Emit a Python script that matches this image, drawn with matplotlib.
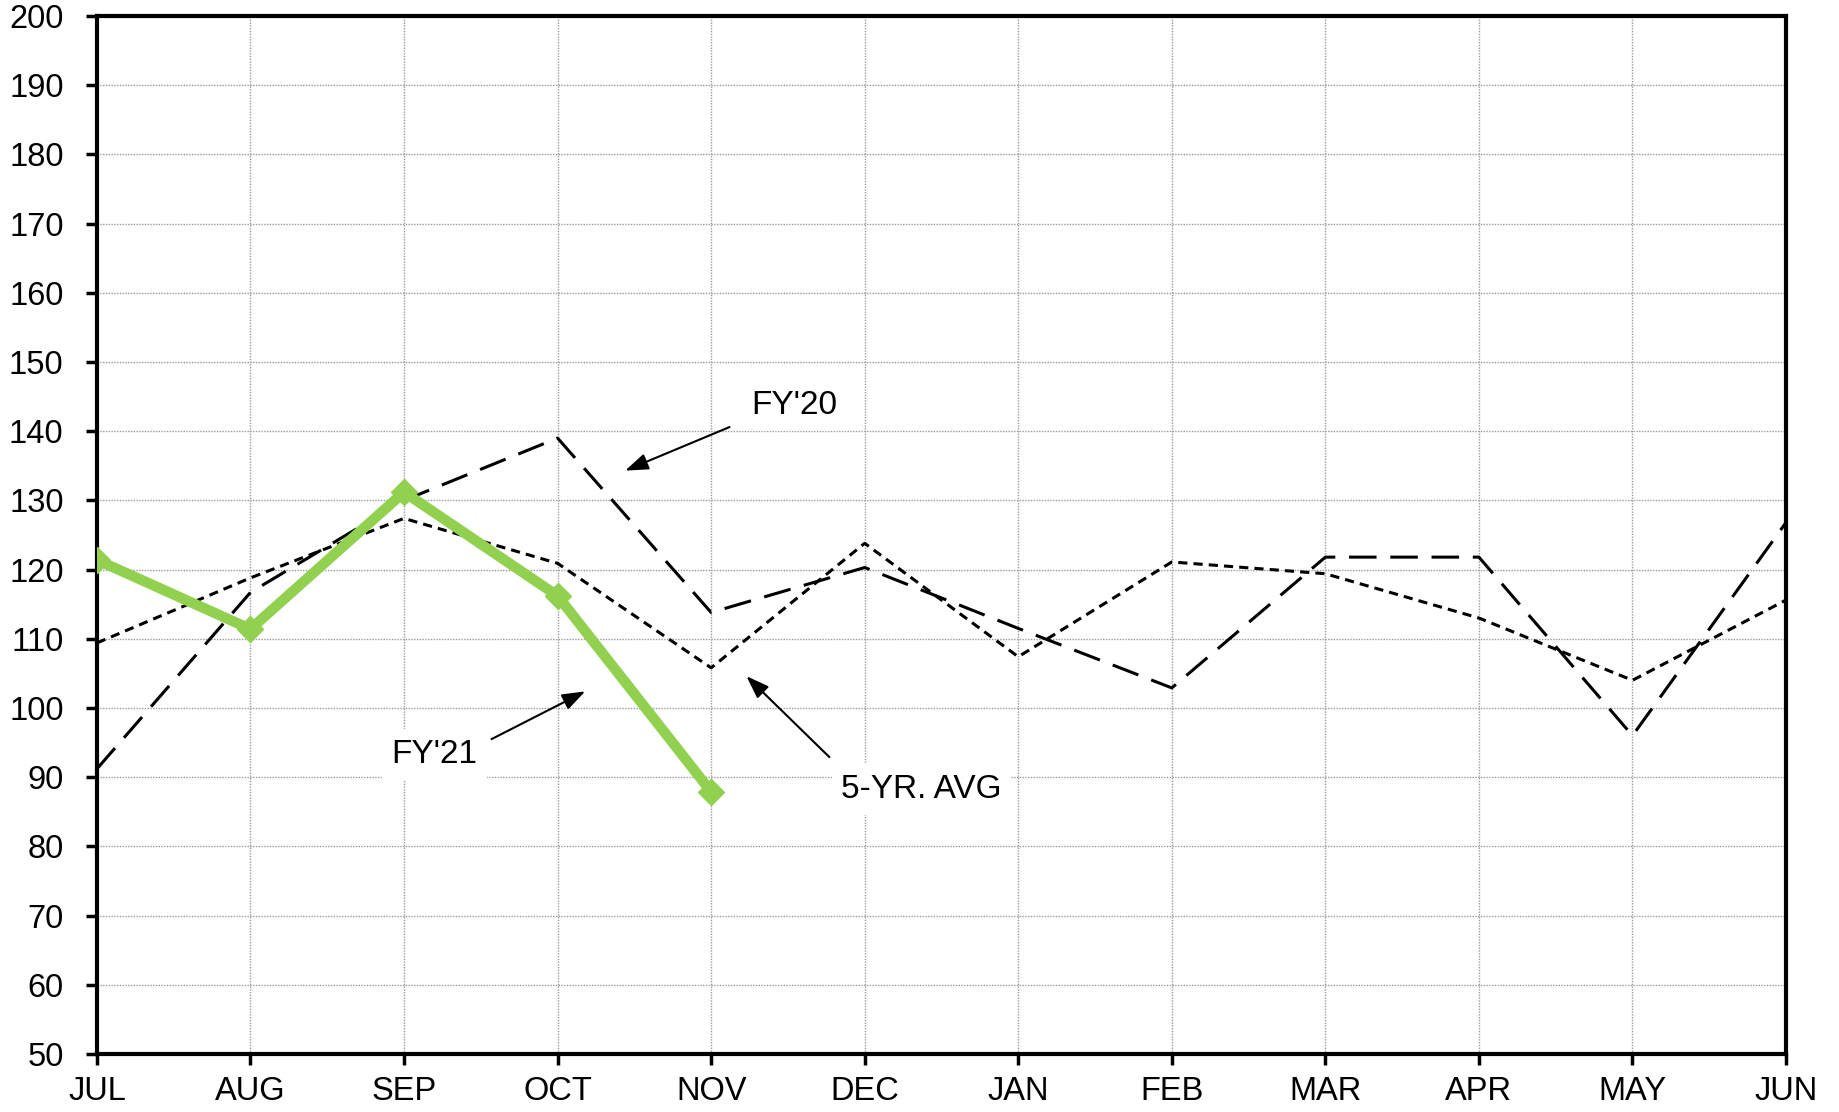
import matplotlib.pyplot as plt
import numpy as np

months = ['JUL', 'AUG', 'SEP', 'OCT', 'NOV', 'DEC', 'JAN', 'FEB', 'MAR', 'APR', 'MAY', 'JUN']
fy21 = [121.4, 111.4, 131.2, 116.2, 87.9]
fy20 = [91.2, 116.7, 130.0, 139.0, 113.8, 120.3, 111.5, 102.9, 121.8, 121.8, 96.0, 126.8]
avg5 = [109.4, 118.8, 127.4, 120.9, 105.8, 123.8, 107.4, 121.1, 119.4, 113.0, 104.0, 115.6]

plt.rcParams['font.family'] = ['Liberation Sans', 'DejaVu Sans']

fig = plt.figure(figsize=(18.39, 11.12), dpi=100)
ax = fig.add_axes([0.0527, 0.0522, 0.9185, 0.9334])

x = np.arange(len(months))
ax.plot(x, fy20, color='black', lw=2.2, dashes=(9, 4.5), zorder=3)
ax.plot(x, avg5, color='black', lw=2.2, dashes=(3, 2), zorder=3)
ax.plot(x[:len(fy21)], fy21, color='#92D050', lw=7.5, marker='D', ms=13,
        solid_joinstyle='miter', zorder=4)

ax.set_xlim(0, 11)
ax.set_ylim(50, 200)
ax.set_xticks(x)
ax.set_xticklabels(months)
ax.set_yticks(np.arange(50, 201, 10))
ax.tick_params(labelsize=23.5, length=8, width=2.5, direction='out')
ax.tick_params(axis='x', pad=8)
ax.tick_params(axis='y', pad=16)
ax.grid(True, color='#999999', lw=1, linestyle=(0, (1, 1)))
ax.set_axisbelow(True)
for s in ax.spines.values():
    s.set_linewidth(3)

box = dict(facecolor='white', edgecolor='none', pad=7)
arrow = dict(arrowstyle='-|>,head_length=1.4,head_width=0.5', color='black', lw=1.5,
             shrinkA=0, shrinkB=0)
ax.annotate('', xy=(3.44, 134.3), xytext=(4.12, 140.6), arrowprops=arrow)
ax.text(4.54, 143.7, "FY'20", fontsize=24, ha='center', va='center', bbox=box)
ax.annotate('', xy=(3.18, 102.4), xytext=(2.57, 95.5), arrowprops=arrow)
ax.text(2.20, 93.3, "FY'21", fontsize=24, ha='center', va='center', bbox=box)
ax.annotate('', xy=(4.23, 104.6), xytext=(4.77, 92.9), arrowprops=arrow)
ax.text(5.37, 88.2, "5-YR. AVG", fontsize=24, ha='center', va='center', bbox=box)

plt.savefig('out.png', dpi=100)
